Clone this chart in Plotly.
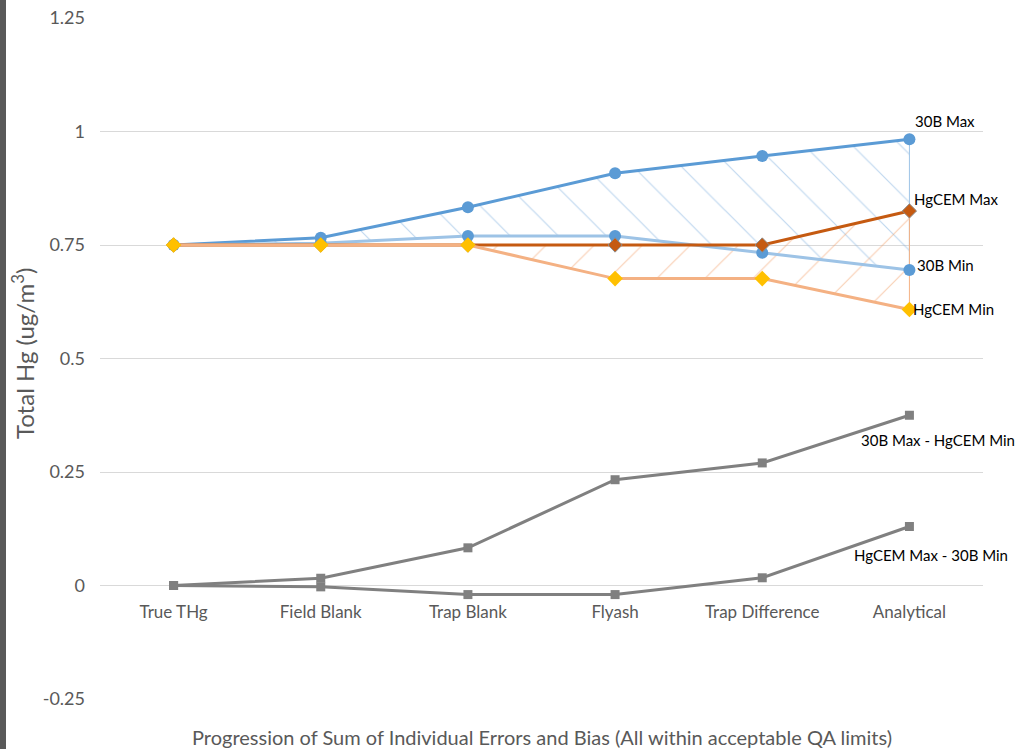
import plotly.graph_objects as go

# Measurement steps along the sampling chain
steps = ["True THg", "Field Blank", "Trap Blank", "Flyash", "Trap Difference", "Analytical"]

# Cumulative total-Hg envelopes (ug/m3)
m30b_max = [0.750, 0.766, 0.833, 0.908, 0.946, 0.983]
m30b_min = [0.750, 0.754, 0.770, 0.770, 0.733, 0.695]
hgcem_max = [0.750, 0.750, 0.750, 0.750, 0.750, 0.825]
hgcem_min = [0.750, 0.750, 0.750, 0.676, 0.676, 0.608]

# Spread between the two methods
diff_30bmax_hgcemmin = [0.000, 0.016, 0.083, 0.233, 0.270, 0.375]
diff_hgcemmax_30bmin = [0.000, -0.003, -0.020, -0.020, 0.017, 0.130]

y_ticks = [-0.25, 0, 0.25, 0.5, 0.75, 1, 1.25]
y_ticktext = ["-0.25", "0", "0.25", "0.5", "0.75", "1", "1.25"]

BLUE = "#5B9BD5"
LIGHT_BLUE = "#9DC3E6"
DARK_ORANGE = "#C55A11"
LIGHT_ORANGE = "#F4B183"
GOLD = "#FFC000"
GRAY = "#808080"
FONT = "Lato"

fig = go.Figure()

# Hatched bands between max and min of each method
fig.add_trace(go.Scatter(
    x=steps + steps[::-1], y=m30b_max + m30b_min[::-1],
    mode="lines", fill="toself",
    fillcolor="rgba(0,0,0,0)",
    fillpattern=dict(shape="\\", fgcolor="#7FB0DE", bgcolor="rgba(0,0,0,0)",
                     size=34, solidity=0.035, fillmode="overlay"),
    line=dict(color=LIGHT_BLUE, width=1),
    hoverinfo="skip", showlegend=False))
fig.add_trace(go.Scatter(
    x=steps + steps[::-1], y=hgcem_max + hgcem_min[::-1],
    mode="lines", fill="toself",
    fillcolor="rgba(0,0,0,0)",
    fillpattern=dict(shape="/", fgcolor="#F29E68", bgcolor="rgba(0,0,0,0)",
                     size=34, solidity=0.035, fillmode="overlay"),
    line=dict(color=LIGHT_ORANGE, width=1),
    hoverinfo="skip", showlegend=False))

# Envelope lines
fig.add_trace(go.Scatter(x=steps, y=m30b_max, name="30B Max", mode="lines+markers",
                         line=dict(color=BLUE, width=3),
                         marker=dict(symbol="circle", size=12, color=BLUE)))
fig.add_trace(go.Scatter(x=steps, y=m30b_min, name="30B Min", mode="lines+markers",
                         line=dict(color=LIGHT_BLUE, width=3),
                         marker=dict(symbol="circle", size=12, color=BLUE)))
fig.add_trace(go.Scatter(x=steps, y=hgcem_max, name="HgCEM Max", mode="lines+markers",
                         line=dict(color=DARK_ORANGE, width=3),
                         marker=dict(symbol="diamond", size=11, color=DARK_ORANGE,
                                     line=dict(color="#8C8C8C", width=1))))
fig.add_trace(go.Scatter(x=steps, y=hgcem_min, name="HgCEM Min", mode="lines+markers",
                         line=dict(color=LIGHT_ORANGE, width=3),
                         marker=dict(symbol="diamond", size=12, color=GOLD)))

# Difference lines
fig.add_trace(go.Scatter(x=steps, y=diff_30bmax_hgcemmin, name="30B Max - HgCEM Min",
                         mode="lines+markers", line=dict(color=GRAY, width=3),
                         marker=dict(symbol="square", size=9, color=GRAY)))
fig.add_trace(go.Scatter(x=steps, y=diff_hgcemmax_30bmin, name="HgCEM Max - 30B Min",
                         mode="lines+markers", line=dict(color=GRAY, width=3),
                         marker=dict(symbol="square", size=9, color=GRAY)))

# End-of-line labels
labels = [
    ("30B Max", m30b_max[-1], 4, 18),
    ("HgCEM Max", hgcem_max[-1], 3, 12),
    ("30B Min", m30b_min[-1], 6, 5),
    ("HgCEM Min", hgcem_min[-1], 2, 0),
]
for text, yv, dx, dy in labels:
    fig.add_annotation(x=steps[-1], y=yv, text=text, showarrow=False,
                       xanchor="left", yanchor="middle", xshift=dx, yshift=dy,
                       font=dict(family=FONT, size=15, color="#000000"))
fig.add_annotation(x=steps[-1], y=diff_30bmax_hgcemmin[-1], text="30B Max - HgCEM Min",
                   showarrow=False, xanchor="center", yanchor="middle",
                   xshift=29, yshift=-25, font=dict(family=FONT, size=15, color="#000000"))
fig.add_annotation(x=steps[-1], y=diff_hgcemmax_30bmin[-1], text="HgCEM Max - 30B Min",
                   showarrow=False, xanchor="center", yanchor="middle",
                   xshift=22, yshift=-29, font=dict(family=FONT, size=15, color="#000000"))

# Axis titles
fig.add_annotation(xref="paper", yref="paper", x=0.5, y=-0.056,
                   text="Progression of Sum of Individual Errors and Bias (All within acceptable QA limits)",
                   showarrow=False, xanchor="center", yanchor="middle",
                   font=dict(family=FONT, size=20, color="#595959"))
fig.add_annotation(xref="paper", yref="paper", x=-0.088, y=0.507,
                   text="Total Hg (ug/m<sup>3</sup>)", textangle=-90,
                   showarrow=False, xanchor="center", yanchor="middle",
                   font=dict(family=FONT, size=24, color="#595959"))

# Dark strip along the left edge
fig.add_shape(type="rect", xref="paper", yref="paper",
              x0=-100 / 883, x1=-94 / 883, y0=-50 / 681, y1=1 + 18 / 681,
              fillcolor="#595959", line=dict(width=0), layer="above")

fig.update_layout(
    width=1023, height=749,
    margin=dict(l=100, r=40, t=18, b=50, autoexpand=False),
    paper_bgcolor="white", plot_bgcolor="white",
    showlegend=False,
    font=dict(family=FONT, color="#595959"),
    xaxis=dict(type="category", range=[-0.5, 5.5], showgrid=False, zeroline=False,
               showline=False, ticks="", anchor="free", position=1 / 6,
               automargin=False, ticklabelstandoff=14,
               tickfont=dict(family=FONT, size=17, color="#595959")),
    yaxis=dict(range=[-0.25, 1.25], tickvals=y_ticks, ticktext=y_ticktext,
               showgrid=True, gridcolor="#D9D9D9", gridwidth=1, zeroline=False,
               showline=False, ticks="", ticklabelstandoff=14, automargin=False,
               tickfont=dict(family=FONT, size=18, color="#595959")),
)

fig.write_html("out.html")
